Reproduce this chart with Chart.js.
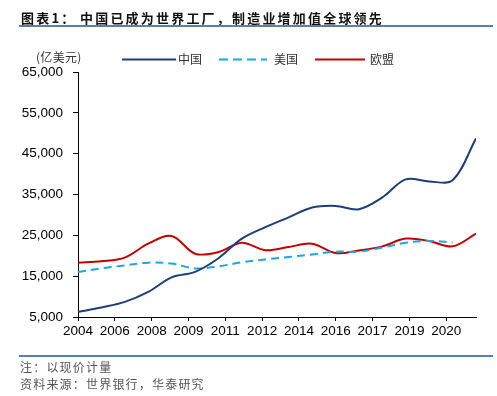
<!DOCTYPE html>
<html><head><meta charset="utf-8">
<script src="https://cdn.jsdelivr.net/npm/chart.js@4/dist/chart.umd.min.js"></script>
<style>
html,body{margin:0;padding:0;background:#fff;}
#wrap{position:relative;width:497px;height:396px;overflow:hidden;font-family:"Noto Sans CJK SC",sans-serif;}
#c{position:absolute;left:0;top:0;}
.t{position:absolute;white-space:nowrap;line-height:1;}
.title{font-size:13px;font-weight:bold;color:#111;letter-spacing:2.2px;top:11px;}
.rule{position:absolute;left:19px;width:474px;height:2px;background:#5b7fad;}
.leg{font-size:12px;color:#333;top:53px;}
.note{font-size:12px;color:#555;letter-spacing:1.2px;left:20px;}
svg{position:absolute;left:0;top:0;}
</style></head>
<body>
<div id="wrap">
<canvas id="c" width="497" height="396"></canvas>
<div class="t title" style="left:21px;">图表1：</div>
<div class="t title" style="left:80px;">中国已成为世界工厂，制造业增加值全球领先</div>
<div class="rule" style="top:25px;"></div>
<div class="t leg" style="left:36px;top:51px;letter-spacing:0.3px;">(亿美元)</div>
<svg width="497" height="80">
  <line x1="122" y1="59.5" x2="176" y2="59.5" stroke="#1f3e79" stroke-width="2"/>
  <line x1="219" y1="59.5" x2="267" y2="59.5" stroke="#19a7e8" stroke-width="2" stroke-dasharray="9 5"/>
  <line x1="315" y1="59.5" x2="365" y2="59.5" stroke="#c00000" stroke-width="2"/>
</svg>
<div class="t leg" style="left:178px;">中国</div>
<div class="t leg" style="left:274px;">美国</div>
<div class="t leg" style="left:370px;">欧盟</div>
<div class="rule" style="top:355px;"></div>
<div class="t note" style="top:361px;">注：以现价计量</div>
<div class="t note" style="top:378px;">资料来源：世界银行，华泰研究</div>
</div>
<script>
const years = [2004,2005,2006,2007,2008,2009,2010,2011,2012,2013,2014,2015,2016,2017,2018,2019,2020,2021];
const china = [6250,7340,8700,11150,14700,16050,19400,24200,27000,29400,31800,32200,31400,34300,38700,38200,38500,48700];
const usa = [16000,16900,17650,18300,18100,16900,17400,18400,19100,19700,20300,21000,21000,22000,23200,23600,23300];
const eu = [18300,18650,19550,22950,24850,20500,20900,23200,21350,22150,22950,20650,21300,22300,24200,23600,22300,25400];
const xTickLabels = ['2004','2006','2008','2009','2011','2012','2014','2016','2017','2019','2020'];
const yTicks = [5000,15000,25000,35000,45000,55000,65000];

const TICK_STEP = 1.573;
const toPts = arr => arr.map((v,i)=>({x:years[i], y:v}));
const axisFont = {family:'"Liberation Sans", Arial, sans-serif', size:13.5};

new Chart(document.getElementById('c'), {
  type:'line',
  data:{datasets:[
    {label:'中国', data:toPts(china), borderColor:'#1f3e79', borderWidth:2, pointRadius:0, tension:0.35, fill:false},
    {label:'美国', data:toPts(usa), borderColor:'#19a7e8', borderWidth:2, borderDash:[8,5], pointRadius:0, tension:0.35, fill:false},
    {label:'欧盟', data:toPts(eu), borderColor:'#c00000', borderWidth:2, pointRadius:0, tension:0.35, fill:false}
  ]},
  options:{
    responsive:false, animation:false, devicePixelRatio:1,
    layout:{padding:{top:72,left:0,right:21,bottom:59}},
    plugins:{legend:{display:false}, tooltip:{enabled:false}},
    scales:{
      x:{type:'linear', min:years[0], max:years[years.length-1],
        afterBuildTicks:s=>{s.ticks = xTickLabels.map((l,i)=>({value:years[0]+i*TICK_STEP}));},
        afterFit:s=>{s.height=20;},
        ticks:{callback:(v,i)=>xTickLabels[i], color:'#000', font:axisFont, padding:2, maxRotation:0, autoSkip:false},
        grid:{display:true, drawOnChartArea:false, drawTicks:true, tickLength:4, color:'#000'},
        border:{display:true, color:'#000', width:1}
      },
      y:{min:yTicks[0], max:yTicks[yTicks.length-1],
        afterBuildTicks:s=>{s.ticks = yTicks.map(v=>({value:v}));},
        afterFit:s=>{s.width=78;},
        ticks:{callback:v=>v.toLocaleString('en-US'), color:'#000', font:axisFont, padding:10},
        grid:{display:true, drawOnChartArea:false, drawTicks:true, tickLength:5, color:'#000'},
        border:{display:true, color:'#000', width:1}
      }
    }
  }
});
</script>
</body></html>
